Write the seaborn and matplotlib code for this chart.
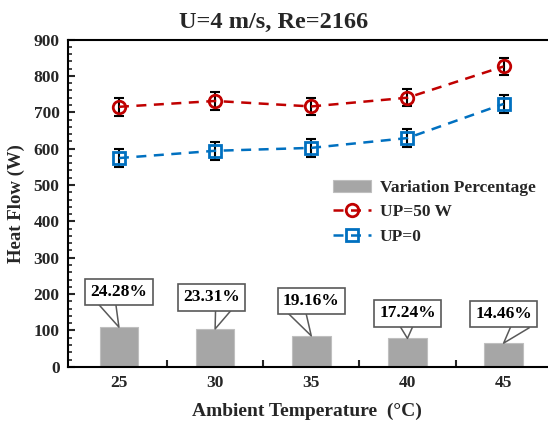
import numpy as np
import pandas as pd
import matplotlib
matplotlib.use("Agg")
import matplotlib.pyplot as plt
import seaborn as sns
from matplotlib.ticker import MultipleLocator

temps = ["25", "30", "35", "40", "45"]
up50 = [715, 731, 716, 740, 826]
up0 = [574, 594, 602, 629, 723]
err50 = [24, 24, 24, 24, 24]
err0 = [24, 24, 24, 24, 24]
bar_heights = [109, 104, 85, 78, 65]
pct_labels = ["24.28%", "23.31%", "19.16%", "17.24%", "14.46%"]

sns.set_theme(style="ticks")
plt.rcParams["font.family"] = ["Liberation Serif", "DejaVu Serif"]
plt.rcParams["font.weight"] = "bold"

fig = plt.figure(figsize=(5.48, 4.25), dpi=100)
ax = fig.add_axes([0.124, 0.137, 0.874, 0.770])

df_bar = pd.DataFrame({"T": temps, "v": bar_heights})
sns.barplot(data=df_bar, x="T", y="v", ax=ax, color="#A6A6A6", width=0.4,
            edgecolor="#BFBFBF", linewidth=0.8, saturation=1,
            label="Variation Percentage")

pos = np.arange(len(temps))
ax.errorbar(pos, up50, yerr=err50, fmt="none", ecolor="black", elinewidth=1.5,
            capsize=3.5, capthick=1.5, zorder=3)
ax.errorbar(pos, up0, yerr=err0, fmt="none", ecolor="black", elinewidth=1.5,
            capsize=3.5, capthick=1.5, zorder=3)

df_l = pd.DataFrame({"x": pos, "a": up50, "b": up0})
sns.lineplot(data=df_l, x="x", y="a", ax=ax, color="#C00000", linestyle=(0, (4, 3)),
             lw=1.8, marker="o", markersize=9, markerfacecolor="none",
             markeredgecolor="#C00000", markeredgewidth=2, label="UP=50 W", zorder=4)
sns.lineplot(data=df_l, x="x", y="b", ax=ax, color="#0070C0", linestyle=(0, (4, 3)),
             lw=1.8, marker="s", markersize=8.5, markerfacecolor="none",
             markeredgecolor="#0070C0", markeredgewidth=2, label="UP=0", zorder=4)

# callouts (box centre offsets and callout base positions are layout only)
text_pos = [(0.0, 205), (0.96, 191), (2.0, 181), (3.0, 147), (4.0, 145)]
base_rel = [0.28, 0.73, 0.23, 0.48, 0.83]
for i, (lab, h, tp, rx) in enumerate(zip(pct_labels, bar_heights, text_pos, base_rel)):
    ax.annotate(lab, xy=(i, h), xytext=tp, ha="center", va="center",
                fontsize=12.5, fontweight="bold", color="black",
                bbox=dict(boxstyle="square,pad=0.3", fc="white", ec="#595959", lw=1.2),
                arrowprops=dict(arrowstyle="wedge,tail_width=1.1", mutation_scale=12,
                                fc="white", ec="#595959", lw=1.1, patchA=None,
                                relpos=(rx, 0.02), shrinkA=0, shrinkB=0), zorder=5)

ax.set_xlim(-0.53, 4.45)
ax.set_ylim(0, 900)
ax.yaxis.set_major_locator(MultipleLocator(100))
ax.yaxis.set_minor_locator(MultipleLocator(20))
ax.set_xticks(pos)
ax.set_xticks(pos[:-1] + 0.5, minor=True)
ax.set_xticklabels(temps)
ax.tick_params(axis="both", which="major", direction="in", length=5, width=1.5,
               labelsize=12.5, pad=6)
ax.tick_params(axis="y", which="minor", direction="in", length=3, width=1.2)
ax.tick_params(axis="x", which="minor", direction="in", length=5, width=1.5)
for t in ax.get_xticklabels() + ax.get_yticklabels():
    t.set_fontweight("bold")

for s in ["left", "bottom", "top"]:
    ax.spines[s].set_visible(True)
    ax.spines[s].set_linewidth(1.5)
    ax.spines[s].set_color("black")
ax.spines["right"].set_visible(False)

ax.set_xlabel("Ambient Temperature  (°C)", fontsize=14, fontweight="bold", labelpad=8)
ax.set_ylabel("Heat Flow (W)", fontsize=13.5, fontweight="bold", labelpad=6)
ax.set_title("U=4 m/s, Re=2166", fontsize=17.5, fontweight="bold", pad=8, x=0.43)

handles, labels = ax.get_legend_handles_labels()
order = [labels.index(l) for l in ["Variation Percentage", "UP=50 W", "UP=0"]]
leg = ax.legend([handles[k] for k in order], [labels[k] for k in order],
                loc="upper left", bbox_to_anchor=(0.52, 0.62), frameon=False,
                prop={"size": 12.5, "weight": "bold"}, handlelength=2.2,
                labelspacing=0.5, handletextpad=0.5)

fig.savefig("out.png", dpi=100)
